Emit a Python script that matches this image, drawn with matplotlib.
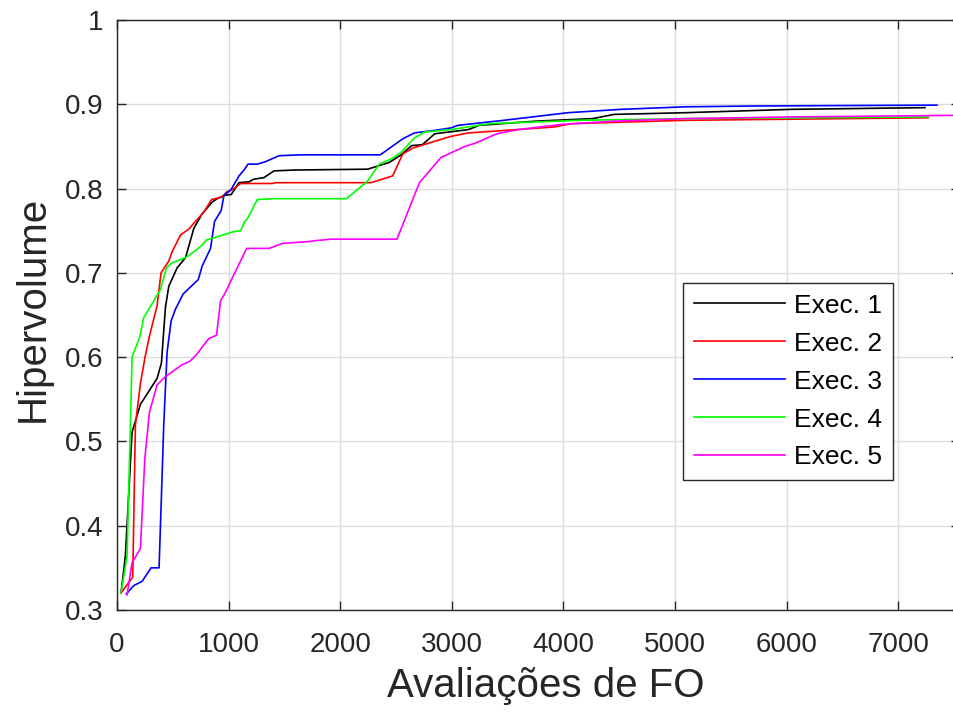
import numpy as np
import matplotlib
matplotlib.use("Agg")
import matplotlib.pyplot as plt
from matplotlib.ticker import FuncFormatter

# evaluations of the objective function (x) and hypervolume (y) for each run
exec1_x = [36, 75, 135, 210, 360, 398, 434, 464, 539, 614, 689, 763, 853, 898, 964, 1024,
           1093, 1183, 1222, 1317, 1407, 1587, 2246, 2440, 2545, 2641, 2736, 2847, 3149,
           3245, 3754, 4262, 4453, 5089, 6043, 7240]
exec1_y = [0.320, 0.364, 0.511, 0.544, 0.575, 0.593, 0.659, 0.684, 0.706, 0.718, 0.753,
           0.770, 0.784, 0.788, 0.792, 0.793, 0.807, 0.808, 0.811, 0.813, 0.821, 0.822,
           0.823, 0.831, 0.840, 0.851, 0.852, 0.865, 0.870, 0.875, 0.880, 0.883, 0.888,
           0.890, 0.894, 0.896]

exec2_x = [36, 96, 141, 165, 210, 254, 293, 359, 395, 464, 494, 569, 644, 689, 778, 847,
           943, 982, 1048, 1108, 1392, 1422, 2275, 2470, 2560, 2650, 2844, 2994, 3149,
           3913, 4071, 5089, 7267]
exec2_y = [0.320, 0.331, 0.339, 0.520, 0.569, 0.602, 0.626, 0.661, 0.700, 0.714, 0.725,
           0.745, 0.752, 0.759, 0.772, 0.787, 0.790, 0.796, 0.800, 0.806, 0.806, 0.807,
           0.807, 0.815, 0.841, 0.848, 0.856, 0.862, 0.866, 0.873, 0.877, 0.881, 0.884]

exec3_x = [84, 150, 225, 305, 377, 419, 449, 485, 524, 593, 728, 763, 838, 874, 934, 958,
           1018, 1093, 1138, 1174, 1257, 1332, 1452, 1647, 2359, 2560, 2665, 2844, 2994,
           3054, 3467, 4040, 4517, 5089, 5725, 7347]
exec3_y = [0.319, 0.329, 0.334, 0.350, 0.350, 0.520, 0.606, 0.643, 0.657, 0.675, 0.692,
           0.708, 0.729, 0.761, 0.774, 0.792, 0.798, 0.815, 0.822, 0.829, 0.829, 0.832,
           0.839, 0.840, 0.840, 0.859, 0.866, 0.869, 0.872, 0.875, 0.881, 0.890, 0.894,
           0.897, 0.898, 0.899]

exec4_x = [36, 90, 135, 204, 240, 389, 443, 494, 614, 719, 763, 802, 853, 1048, 1108, 1144,
           1168, 1257, 1407, 2057, 2246, 2350, 2455, 2545, 2665, 2754, 2994, 3340, 4135,
           5089, 7270]
exec4_y = [0.320, 0.364, 0.600, 0.624, 0.647, 0.680, 0.706, 0.712, 0.718, 0.728, 0.733,
           0.739, 0.741, 0.749, 0.750, 0.761, 0.764, 0.787, 0.788, 0.788, 0.809, 0.829,
           0.835, 0.843, 0.860, 0.867, 0.870, 0.877, 0.881, 0.883, 0.885]

exec5_x = [90, 135, 210, 249, 290, 359, 434, 584, 653, 719, 763, 823, 892, 928, 973, 1033,
           1162, 1362, 1482, 1707, 1766, 1916, 2509, 2710, 2904, 3118, 3213, 3404, 3595,
           3976, 4453, 5089, 6043, 7600]
exec5_y = [0.318, 0.356, 0.373, 0.479, 0.534, 0.567, 0.577, 0.591, 0.595, 0.604, 0.612,
           0.622, 0.626, 0.667, 0.677, 0.694, 0.729, 0.729, 0.735, 0.737, 0.738, 0.740,
           0.740, 0.807, 0.837, 0.850, 0.854, 0.865, 0.870, 0.876, 0.880, 0.883, 0.885,
           0.887]

labels = ["Exec. 1", "Exec. 2", "Exec. 3", "Exec. 4", "Exec. 5"]
colors = ["black", "red", "blue", (0, 1, 0), (1, 0, 1)]

plt.rcParams['font.family'] = ['Liberation Sans', 'DejaVu Sans']

xmax = 7550  # the original figure is cropped just past 7500
px_per_unit = 837 / 7500
ax_w = xmax * px_per_unit  # axes width in pixels

fig = plt.figure(figsize=(9.54, 7.13), dpi=100)
ax = fig.add_axes([117 / 954, 103 / 713, ax_w / 954, 590 / 713])

series = [(exec1_x, exec1_y), (exec2_x, exec2_y), (exec3_x, exec3_y),
          (exec4_x, exec4_y), (exec5_x, exec5_y)]
for (xs, ys), lab, col in zip(series, labels, colors):
    ax.plot(xs, ys, color=col, lw=1.2, label=lab)

ax.set_xlim(0, xmax)
ax.set_ylim(0.3, 1.0)
ax.set_xticks(np.arange(0, 7001, 1000))
ax.set_yticks(np.arange(0.3, 1.01, 0.1))
ax.yaxis.set_major_formatter(FuncFormatter(lambda v, p: f"{round(v, 1):g}"))

ax.grid(True, color="#dcdcdc", lw=1.0)
ax.set_axisbelow(True)
ax.tick_params(direction="in", length=6.5, width=1.0, labelsize=20, colors="#262626",
               top=True, right=True)
ax.tick_params(axis="x", pad=16)
ax.tick_params(axis="y", pad=10)
for s in ax.spines.values():
    s.set_color("#262626")
    s.set_linewidth(1.0)

ax.set_xlabel("Avaliações de FO", fontsize=29, color="#262626")
ax.set_ylabel("Hipervolume", fontsize=29, color="#262626")
ax.xaxis.set_label_coords((546 - 117) / ax_w, -(667 - 610) / 590)
ax.yaxis.set_label_coords(-(117 - 51.5) / ax_w, 0.51)

leg = ax.legend(loc="upper left",
                bbox_to_anchor=((683 - 117) / ax_w, (610 - 283) / 590),
                fontsize=19, fancybox=False, framealpha=1, edgecolor="#262626",
                handlelength=3.45, borderpad=0.4, labelspacing=0.53, handletextpad=0.35,
                borderaxespad=0)
leg.get_frame().set_linewidth(1.0)

fig.savefig("out.png", dpi=100)
